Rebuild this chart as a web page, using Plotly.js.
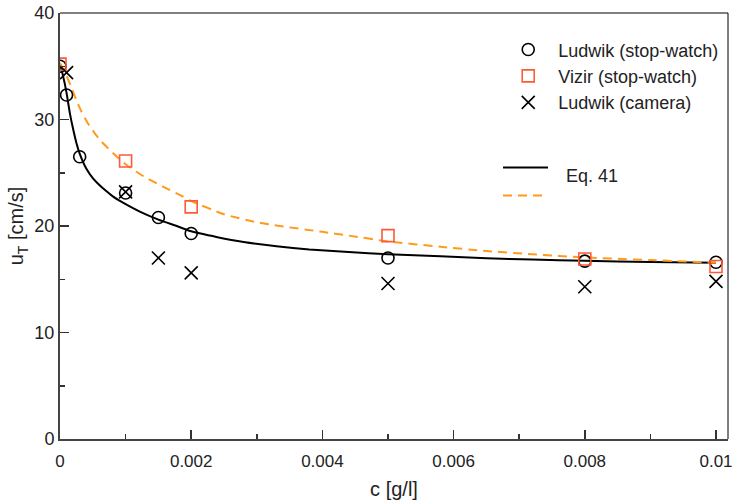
<!DOCTYPE html>
<html>
<head>
<meta charset="utf-8">
<script src="https://cdn.plot.ly/plotly-3.0.1.min.js"></script>
<style>html,body{margin:0;padding:0;background:#fff;}#chart{width:732px;height:503px;}</style>
</head>
<body>
<div id="chart"></div>
<script>
// Measured points
var ludwikSwX = [0, 0.0001, 0.0003, 0.001, 0.0015, 0.002, 0.005, 0.008, 0.01];
var ludwikSwY = [35.0, 32.3, 26.5, 23.1, 20.8, 19.3, 17.0, 16.7, 16.6];
var vizirSwX  = [0, 0.001, 0.002, 0.005, 0.008, 0.01];
var vizirSwY  = [35.2, 26.1, 21.8, 19.1, 16.9, 16.2];
var ludwikCamX = [0.0001, 0.001, 0.0015, 0.002, 0.005, 0.008, 0.01];
var ludwikCamY = [34.4, 23.2, 17.0, 15.6, 14.6, 14.3, 14.8];
// Eq. 41 curves
var eqBlackX = [0, 0.00005, 0.0001, 0.00015, 0.0002, 0.00025, 0.0003, 0.0004, 0.0005, 0.0006, 0.0007, 0.0008, 0.0009, 0.001, 0.0012, 0.0015, 0.0018, 0.002, 0.0024, 0.0028, 0.0033, 0.0038, 0.0044, 0.005, 0.0058, 0.0065, 0.0072, 0.008, 0.009, 0.01];
var eqBlackY = [35.2, 34.0, 32.5, 30.6, 29.1, 27.8, 26.8, 25.4, 24.5, 23.85, 23.3, 22.8, 22.4, 22.05, 21.4, 20.6, 19.95, 19.5, 18.95, 18.5, 18.1, 17.8, 17.55, 17.35, 17.15, 16.97, 16.85, 16.73, 16.63, 16.55];
var eqOrangeX = [0, 0.0001, 0.00018, 0.00025, 0.00033, 0.00043, 0.00053, 0.00063, 0.00074, 0.00086, 0.001, 0.0012, 0.00135, 0.0016, 0.0018, 0.002, 0.0025, 0.003, 0.00335, 0.004, 0.0044, 0.005, 0.0058, 0.0065, 0.0072, 0.008, 0.009, 0.01];
var eqOrangeY = [35.3, 34.1, 32.9, 31.8, 30.7, 29.6, 28.7, 27.95, 27.25, 26.55, 25.8, 24.95, 24.4, 23.6, 23.0, 22.35, 21.1, 20.35, 20.0, 19.45, 19.1, 18.55, 18.05, 17.65, 17.35, 17.05, 16.8, 16.55];
var legendNames = ['Ludwik (stop-watch)', 'Vizir (stop-watch)', 'Ludwik (camera)'];
var eqLabel = 'Eq. 41';

var NB = '\u00a0\u00a0';
var F = 'Liberation Sans, Arial, sans-serif';
var colSquare = '#ff5a36';
var colDash = '#ff9a1a';

var traces = [
  {x: eqBlackX, y: eqBlackY, mode: 'lines', line: {color: '#000', width: 2, shape: 'spline', smoothing: 0.5}, showlegend: false, hoverinfo: 'skip'},
  {x: eqOrangeX, y: eqOrangeY, mode: 'lines', line: {color: colDash, width: 2, dash: '9px,6px', shape: 'spline', smoothing: 0.5}, showlegend: false, hoverinfo: 'skip'},
  {x: ludwikSwX, y: ludwikSwY, mode: 'markers', name: NB + legendNames[0], marker: {symbol: 'circle-open', size: 12, color: '#000', line: {width: 1.6, color: '#000'}}},
  {x: vizirSwX, y: vizirSwY, mode: 'markers', name: NB + legendNames[1], marker: {symbol: 'square-open', size: 12, color: colSquare, line: {width: 1.6, color: colSquare}}},
  {x: ludwikCamX, y: ludwikCamY, mode: 'markers', name: NB + legendNames[2], marker: {symbol: 'x-thin-open', size: 13, color: '#000', line: {width: 1.6, color: '#000'}}}
];

var layout = {
  width: 732, height: 503,
  margin: {l: 60, r: 4, t: 13, b: 64},
  paper_bgcolor: '#fff', plot_bgcolor: '#fff',
  font: {family: F, size: 18, color: '#222'},
  showlegend: true,
  legend: {x: 0.671, xanchor: 'left', y: 0.957, yanchor: 'top', bgcolor: 'rgba(0,0,0,0)', borderwidth: 0, font: {family: F, size: 18, color: '#222'}, tracegroupgap: 0},
  xaxis: {
    range: [0, 0.010183], dtick: 0.002, tick0: 0, ticks: 'inside', ticklen: 9, tickwidth: 1.5, tickcolor: '#333',
    minor: {dtick: 0.001, ticks: 'inside', ticklen: 5, tickwidth: 1.5, tickcolor: '#333'},
    showgrid: false, zeroline: false, showline: true, linecolor: '#444', linewidth: 2,
    tickfont: {family: F, size: 17, color: '#222'}, ticklabeloverflow: 'allow', ticklabelstandoff: 6,
    title: {text: 'c [g/l]', font: {family: F, size: 20, color: '#222'}, standoff: 12},
    automargin: false
  },
  yaxis: {
    range: [0, 40], dtick: 10, tick0: 0, ticks: 'inside', ticklen: 9, tickwidth: 1.5, tickcolor: '#333',
    minor: {dtick: 5, ticks: 'inside', ticklen: 5, tickwidth: 1.5, tickcolor: '#333'},
    showgrid: false, zeroline: false, showline: true, linecolor: '#444', linewidth: 2,
    tickfont: {family: F, size: 18, color: '#222'},
    title: {text: 'u<sub>T</sub> [cm/s]', font: {family: F, size: 20, color: '#222'}, standoff: 5},
    automargin: false
  },
  shapes: [
    {type: 'line', xref: 'paper', yref: 'paper', x0: 0, x1: 1, y0: 1, y1: 1, line: {color: '#000', width: 1}},
    {type: 'line', xref: 'paper', yref: 'paper', x0: 1, x1: 1, y0: 0, y1: 1, line: {color: '#000', width: 1}},
    {type: 'line', xref: 'paper', yref: 'paper', x0: (503-60)/668, x1: (548-60)/668, y0: 1-(167.5-13)/426, y1: 1-(167.5-13)/426, line: {color: '#000', width: 2}},
    {type: 'line', xref: 'paper', yref: 'paper', x0: (503-60)/668, x1: (548-60)/668, y0: 1-(195.5-13)/426, y1: 1-(195.5-13)/426, line: {color: colDash, width: 2, dash: '9px,6px'}}
  ],
  annotations: [
    {xref: 'paper', yref: 'paper', x: (564-60)/668, y: 1-(176-13)/426, xanchor: 'left', yanchor: 'middle', text: eqLabel, showarrow: false, font: {family: F, size: 18, color: '#222'}}
  ]
};

Plotly.newPlot('chart', traces, layout, {staticPlot: true});
</script>
</body>
</html>
